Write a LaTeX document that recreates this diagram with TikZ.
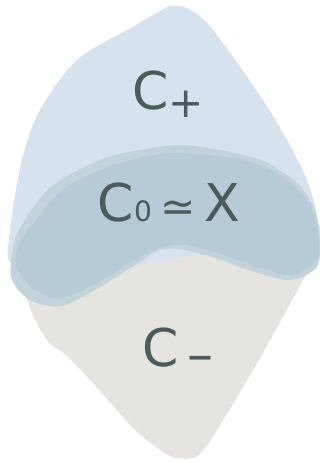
\documentclass[tikz,border=0pt]{standalone}
\usepackage{fontspec}
\setmainfont{DejaVu Sans}
\usepackage{xcolor}
\definecolor{topblue}{HTML}{D6E2ED}
\definecolor{rimblue}{HTML}{C4D2DB}
\definecolor{bandblue}{HTML}{B6CBD6}
\definecolor{lowgray}{HTML}{E6E4E1}
\definecolor{ink}{HTML}{4B5B5B}

\begin{document}
\begin{tikzpicture}[x=0.025cm, y=-0.025cm,
		lbl/.style={text=ink, inner sep=0pt, font=\fontsize{37}{40}\selectfont}]
		
		\useasboundingbox (0,0) rectangle (320,462);
		
		% lower part C-
		\fill[lowgray] plot[smooth cycle, tension=0.55] coordinates {
			(12,235) (27,300) (47,340) (67,356) (100,391) (133,428) (160,450)
			(177,458) (200,454) (227,414) (260,358) (290,304) (312,262) (318,235)
			(250,228) (100,228)};
		
		% upper part C+
		\fill[topblue] plot[smooth cycle, tension=0.55] coordinates {
			(170,6) (187,8) (207,23) (233,57) (263,100) (287,140) (307,180)
			(317,217) (318,260) (200,255) (60,280) (12,265) (10,231) (22,160)
			(40,110) (77,60) (127,30) (157,13)};
		
		% middle band, lighter rim behind
		\fill[rimblue] plot[smooth cycle, tension=0.55] coordinates {
			(20,228) (50,188) (100,160) (140,150) (180,145) (220,150) (250,157)
			(270,164) (300,186) (316,213) (320,245) (316,268) (290,280) (255,272)
			(215,258) (185,250) (160,250) (135,265) (95,290) (60,306) (30,300)
			(12,280) (12,255)};
		\fill[bandblue] plot[smooth cycle, tension=0.55] coordinates {
			(30,228) (60,192) (100,170) (140,158) (180,153) (243,160) (280,175)
			(310,205) (319,240) (315,262) (290,275) (255,266) (215,252) (185,245)
			(160,248) (130,263) (93,285) (60,298) (35,290) (17,268) (18,245)};
		
		% labels
		\node[lbl] (cplus) at (168,94) {C\raisebox{-.15em}{\fontsize{30}{30}\selectfont +}};
		\node[lbl] (czero) at (169,203) {C{\fontsize{20}{20}\selectfont 0}\,{\fontsize{30}{30}\selectfont ≃}\,X};
		\node[lbl] (cminus) at (178,350) {C\,\raisebox{-.12em}{–}};
		
	\end{tikzpicture}
\end{document}
